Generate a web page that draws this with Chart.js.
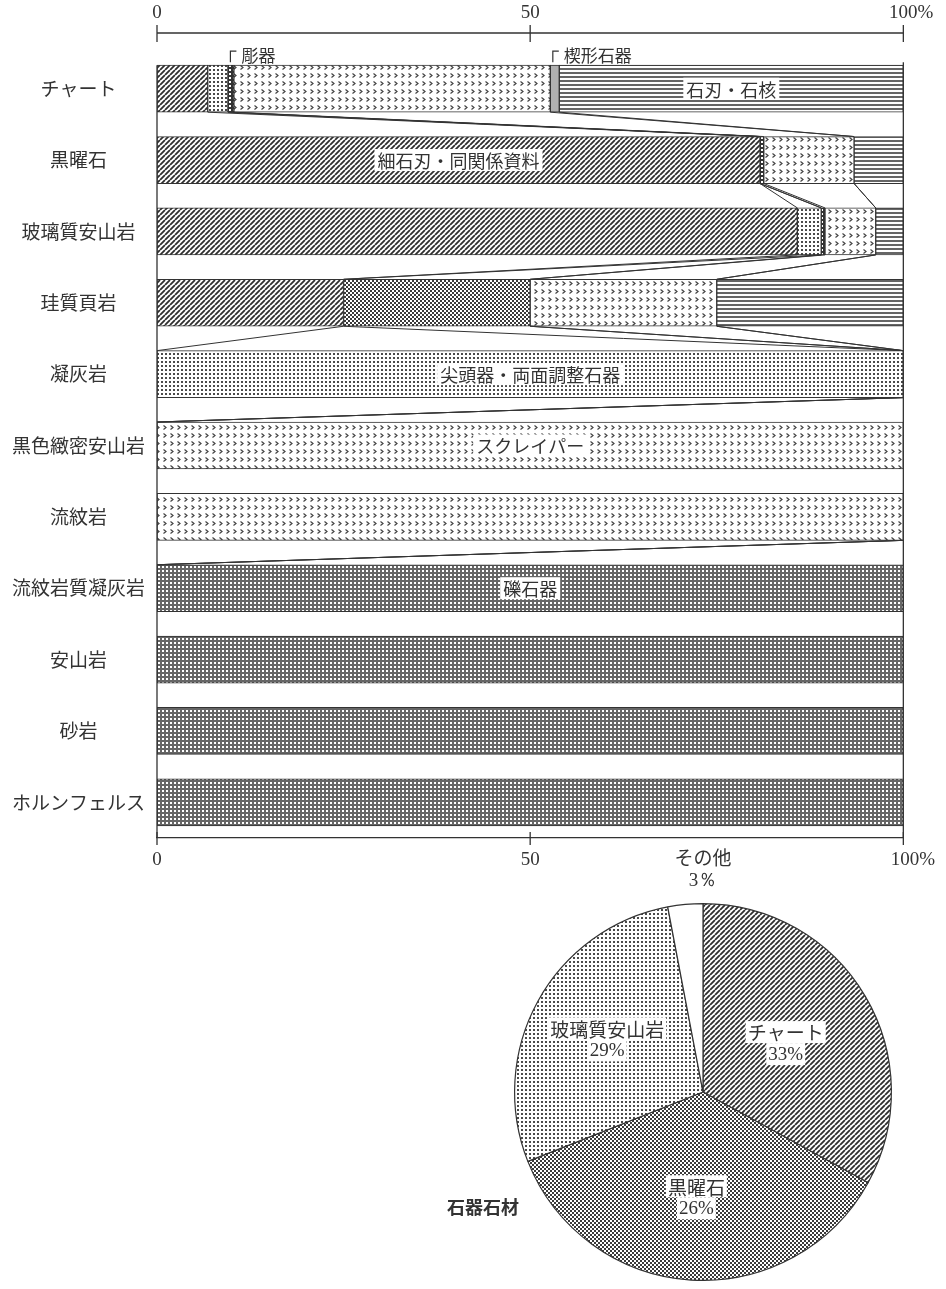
<!DOCTYPE html>
<html><head><meta charset="utf-8">
<script src="https://cdn.jsdelivr.net/npm/chart.js@4.4.1/dist/chart.umd.min.js"></script>
<style>
html,body{margin:0;padding:0;background:#fff;width:946px;height:1289px;overflow:hidden;}
#bar{position:absolute;left:0;top:0;}
#pie{position:absolute;left:420px;top:840px;}
</style></head><body>
<canvas id="bar" width="946" height="890"></canvas>
<canvas id="pie" width="526" height="449"></canvas>
<script>
// ---------------- data ----------------
const materials = ['チャート','黒曜石','玻璃質安山岩','珪質頁岩','凝灰岩','黒色緻密安山岩','流紋岩','流紋岩質凝灰岩','安山岩','砂岩','ホルンフェルス'];
const toolTypes = ['細石刃・同関係資料','尖頭器・両面調整石器','その他','彫器','スクレイパー','楔形石器','石刃・石核','礫石器'];
const microblade = [6.8, 80.8, 85.8, 25, 0, 0, 0, 0, 0, 0, 0];
const point      = [2.7, 0, 3.2, 0, 100, 0, 0, 0, 0, 0, 0];
const otherTool  = [0, 0, 0, 25, 0, 0, 0, 0, 0, 0, 0];
const burin      = [0.8, 0.5, 0.5, 0, 0, 0, 0, 0, 0, 0, 0];
const scraper    = [42.4, 12.1, 6.8, 25, 0, 100, 100, 0, 0, 0, 0];
const wedge      = [1.2, 0, 0, 0, 0, 0, 0, 0, 0, 0, 0];
const blade      = [46.1, 6.6, 3.7, 25, 0, 0, 0, 0, 0, 0, 0];
const pebble     = [0, 0, 0, 0, 0, 0, 0, 100, 100, 100, 100];
const xTicks = [0, 50, 100];
const segmentLabels = [
  {tool:'石刃・石核', row:'チャート'},
  {tool:'細石刃・同関係資料', row:'黒曜石'},
  {tool:'尖頭器・両面調整石器', row:'凝灰岩'},
  {tool:'スクレイパー', row:'黒色緻密安山岩'},
  {tool:'礫石器', row:'流紋岩質凝灰岩'}
];
const callouts = [{tool:'彫器', row:'チャート'}, {tool:'楔形石器', row:'チャート'}];

const pieLabels = ['チャート','黒曜石','玻璃質安山岩','その他'];
const pieValues = [33, 36, 28, 3];
const piePercentText = ['33%','26%','29%','3％'];
const pieTitle = '石器石材';

// ---------------- styles ----------------
const INK = '#333';
const JP = "'Noto Sans CJK JP', sans-serif";
const SERIF = "'Liberation Serif', 'DejaVu Serif', serif";

function makePattern(ctx, w, h, draw) {
  const c = document.createElement('canvas'); c.width = w; c.height = h;
  const g = c.getContext('2d');
  g.fillStyle = '#fff'; g.fillRect(0, 0, w, h);
  draw(g);
  return ctx.createPattern(c, 'repeat');
}
function patterns(ctx) {
  return {
    hatch: makePattern(ctx, 5, 5, g => {
      g.strokeStyle = '#2e2e2e'; g.lineWidth = 1.8; g.beginPath();
      for (const k of [-5, 0, 5]) { g.moveTo(k, 5); g.lineTo(k + 5, 0); }
      g.stroke();
    }),
    dots: makePattern(ctx, 4, 4, g => { g.fillStyle = '#4a4a4a'; g.fillRect(1, 1, 2, 2); }),
    checker: makePattern(ctx, 4, 4, g => { g.fillStyle = '#3a3a3a'; g.fillRect(0, 0, 2, 2); g.fillRect(2, 2, 2, 2); }),
    burin: makePattern(ctx, 4, 4, g => { g.fillStyle = '#333'; g.fillRect(0, 0, 4, 4); g.fillStyle = '#fff'; g.fillRect(1, 1, 2, 2); }),
    chevron: makePattern(ctx, 7, 8, g => {
      g.strokeStyle = '#444'; g.lineWidth = 1.2; g.beginPath();
      g.moveTo(2.5, 1.5); g.lineTo(5, 3.5); g.lineTo(2.5, 5.5); g.stroke();
    }),
    wedge: '#b0b0b0',
    hlines: makePattern(ctx, 4, 4, g => { g.fillStyle = '#666'; g.fillRect(0, 0, 4, 2); }),
    grid: makePattern(ctx, 4, 4, g => { g.fillStyle = '#666'; g.fillRect(0, 0, 4, 2); g.fillRect(0, 0, 2, 4); })
  };
}

// ---------------- bar chart ----------------
const barCanvas = document.getElementById('bar');
const bctx = barCanvas.getContext('2d');
const P = patterns(bctx);
const seriesList = [microblade, point, otherTool, burin, scraper, wedge, blade, pebble];
const fills = [P.hatch, P.dots, P.checker, P.burin, P.chevron, P.wedge, P.hlines, P.grid];

function whiteBoxText(ctx, text, x, y, font, padX) {
  ctx.font = font;
  const w = ctx.measureText(text).width;
  ctx.fillStyle = '#fff';
  ctx.fillRect(x - w / 2 - padX, y - 11, w + 2 * padX, 22);
  ctx.fillStyle = INK;
  ctx.textAlign = 'center'; ctx.textBaseline = 'middle';
  ctx.fillText(text, x, y + 1);
}

const barDecor = {
  id: 'barDecor',
  afterDatasetsDraw(chart) {
    const {ctx, chartArea, scales: {x}} = chart;
    const series = chart.data.datasets.map(d => d.data);
    const nRows = chart.data.labels.length;
    const cum = [];
    for (let r = 0; r < nRows; r++) { let s = 0; cum.push(series.map(v => (s += v[r]))); }
    const meta0 = chart.getDatasetMeta(0);
    const rowTop = r => meta0.data[r].y - meta0.data[r].height / 2;
    const rowBot = r => meta0.data[r].y + meta0.data[r].height / 2;
    const px = v => x.getPixelForValue(v);
    ctx.save();
    ctx.strokeStyle = INK; ctx.lineWidth = 1;
    for (let r = 0; r < nRows - 1; r++) {
      for (let d = 0; d < series.length - 1; d++) {
        const a = cum[r][d], b = cum[r + 1][d];
        if ((a <= 0.001 && b <= 0.001) || (a >= 99.999 && b >= 99.999)) continue;
        ctx.beginPath(); ctx.moveTo(px(a), rowBot(r)); ctx.lineTo(px(b), rowTop(r + 1)); ctx.stroke();
      }
    }
    ctx.lineWidth = 1.3;
    ctx.beginPath();
    ctx.moveTo(px(0), rowTop(0)); ctx.lineTo(px(0), chartArea.bottom);
    ctx.moveTo(px(100), rowTop(0) - 3); ctx.lineTo(px(100), chartArea.bottom);
    ctx.stroke();
    ctx.beginPath();
    xTicks.forEach(t => { ctx.moveTo(px(t), chartArea.bottom - 6); ctx.lineTo(px(t), chartArea.bottom + 7); });
    ctx.stroke();
    const ay = 33;
    ctx.beginPath();
    ctx.moveTo(px(0), ay); ctx.lineTo(px(100), ay);
    xTicks.forEach(t => { ctx.moveTo(px(t), ay - 8); ctx.lineTo(px(t), ay + 9); });
    ctx.stroke();
    ctx.font = '19px ' + SERIF; ctx.fillStyle = INK; ctx.textBaseline = 'middle';
    xTicks.forEach(t => {
      const num = String(t);
      const w = ctx.measureText(num).width;
      ctx.textAlign = 'left';
      ctx.fillText(t === 100 ? num + '%' : num, px(t) - w / 2, 13);
    });
    callouts.forEach(c => {
      const r = chart.data.labels.indexOf(c.row);
      const d = toolTypes.indexOf(c.tool);
      const start = d > 0 ? cum[r][d - 1] : 0;
      const cx = px(start) + 2.5;
      const top = rowTop(r);
      ctx.beginPath(); ctx.lineWidth = 1.2;
      ctx.moveTo(cx, top - 3); ctx.lineTo(cx, top - 14); ctx.lineTo(cx + 6, top - 14); ctx.stroke();
      ctx.font = '17px ' + JP; ctx.textAlign = 'left'; ctx.textBaseline = 'middle'; ctx.fillStyle = INK;
      ctx.fillText(c.tool, cx + 11, top - 10);
    });
    segmentLabels.forEach(s => {
      const r = chart.data.labels.indexOf(s.row);
      const d = toolTypes.indexOf(s.tool);
      const start = d > 0 ? cum[r][d - 1] : 0;
      const end = cum[r][d];
      whiteBoxText(ctx, s.tool, px((start + end) / 2), meta0.data[r].y, '18px ' + JP, 3);
    });
    ctx.restore();
  }
};

new Chart(barCanvas, {
  type: 'bar',
  data: {
    labels: materials,
    datasets: seriesList.map((s, i) => ({
      label: toolTypes[i], data: s, backgroundColor: fills[i],
      borderColor: INK, borderWidth: 1, borderSkipped: false, barThickness: 47
    }))
  },
  options: {
    indexAxis: 'y', responsive: false, animation: false,
    layout: {padding: {top: 53, right: 39, left: 0, bottom: 0}},
    plugins: {legend: {display: false}, tooltip: {enabled: false}},
    scales: {
      x: {
        stacked: true, min: 0, max: 100, position: 'bottom',
        afterBuildTicks: s => { s.ticks = xTicks.map(v => ({value: v})); },
        ticks: {callback: v => v === 100 ? '\u2003100%' : String(v), color: INK, font: {family: SERIF, size: 19}, padding: 11, maxRotation: 0},
        grid: {display: false, drawTicks: false},
        border: {display: true, color: INK, width: 1.3},
        afterFit: s => { s.height = 52; }
      },
      y: {
        stacked: true,
        ticks: {crossAlign: 'center', color: INK, font: {family: JP, size: 19}, padding: 12},
        grid: {display: false, drawTicks: false},
        border: {display: false},
        afterFit: s => { s.width = 157; }
      }
    }
  },
  plugins: [barDecor]
});

// ---------------- pie chart ----------------
const pieCanvas = document.getElementById('pie');
const pctx = pieCanvas.getContext('2d');
const PP = patterns(pctx);
const pieLabelDist = [0.51, 0.56, 0.58, null];

const pieDecor = {
  id: 'pieDecor',
  afterDatasetsDraw(chart) {
    const {ctx} = chart;
    const meta = chart.getDatasetMeta(0);
    ctx.save();
    meta.data.forEach((arc, i) => {
      const p = arc.getProps(['x', 'y', 'startAngle', 'endAngle', 'outerRadius'], true);
      const mid = (p.startAngle + p.endAngle) / 2;
      const f = pieLabelDist[i];
      if (f) {
        const lx = p.x + Math.cos(mid) * p.outerRadius * f;
        const ly = p.y + Math.sin(mid) * p.outerRadius * f;
        whiteBoxText(ctx, chart.data.labels[i], lx, ly - 11, '19px ' + JP, 2);
        whiteBoxText(ctx, piePercentText[i], lx, ly + 11, '19px ' + SERIF, 2);
      } else {
        const lx = p.x, top = p.y - p.outerRadius;
        ctx.fillStyle = INK; ctx.textAlign = 'center'; ctx.textBaseline = 'middle';
        ctx.font = '19px ' + JP; ctx.fillText(chart.data.labels[i], lx, top - 46);
        ctx.font = '19px ' + SERIF; ctx.fillText(piePercentText[i], lx, top - 23);
      }
    });
    ctx.font = 'bold 18px ' + JP; ctx.fillStyle = INK; ctx.textAlign = 'center'; ctx.textBaseline = 'middle';
    ctx.fillText(pieTitle, 63, 367);
    ctx.restore();
  }
};

new Chart(pieCanvas, {
  type: 'pie',
  data: {
    labels: pieLabels,
    datasets: [{data: pieValues, backgroundColor: [PP.hatch, PP.checker, PP.dots, '#fff'], borderColor: INK, borderWidth: 1.2}]
  },
  options: {
    responsive: false, animation: false,
    layout: {padding: {left: 94, right: 54, top: 63, bottom: 8}},
    plugins: {legend: {display: false}, tooltip: {enabled: false}}
  },
  plugins: [pieDecor]
});
</script>
</body></html>
